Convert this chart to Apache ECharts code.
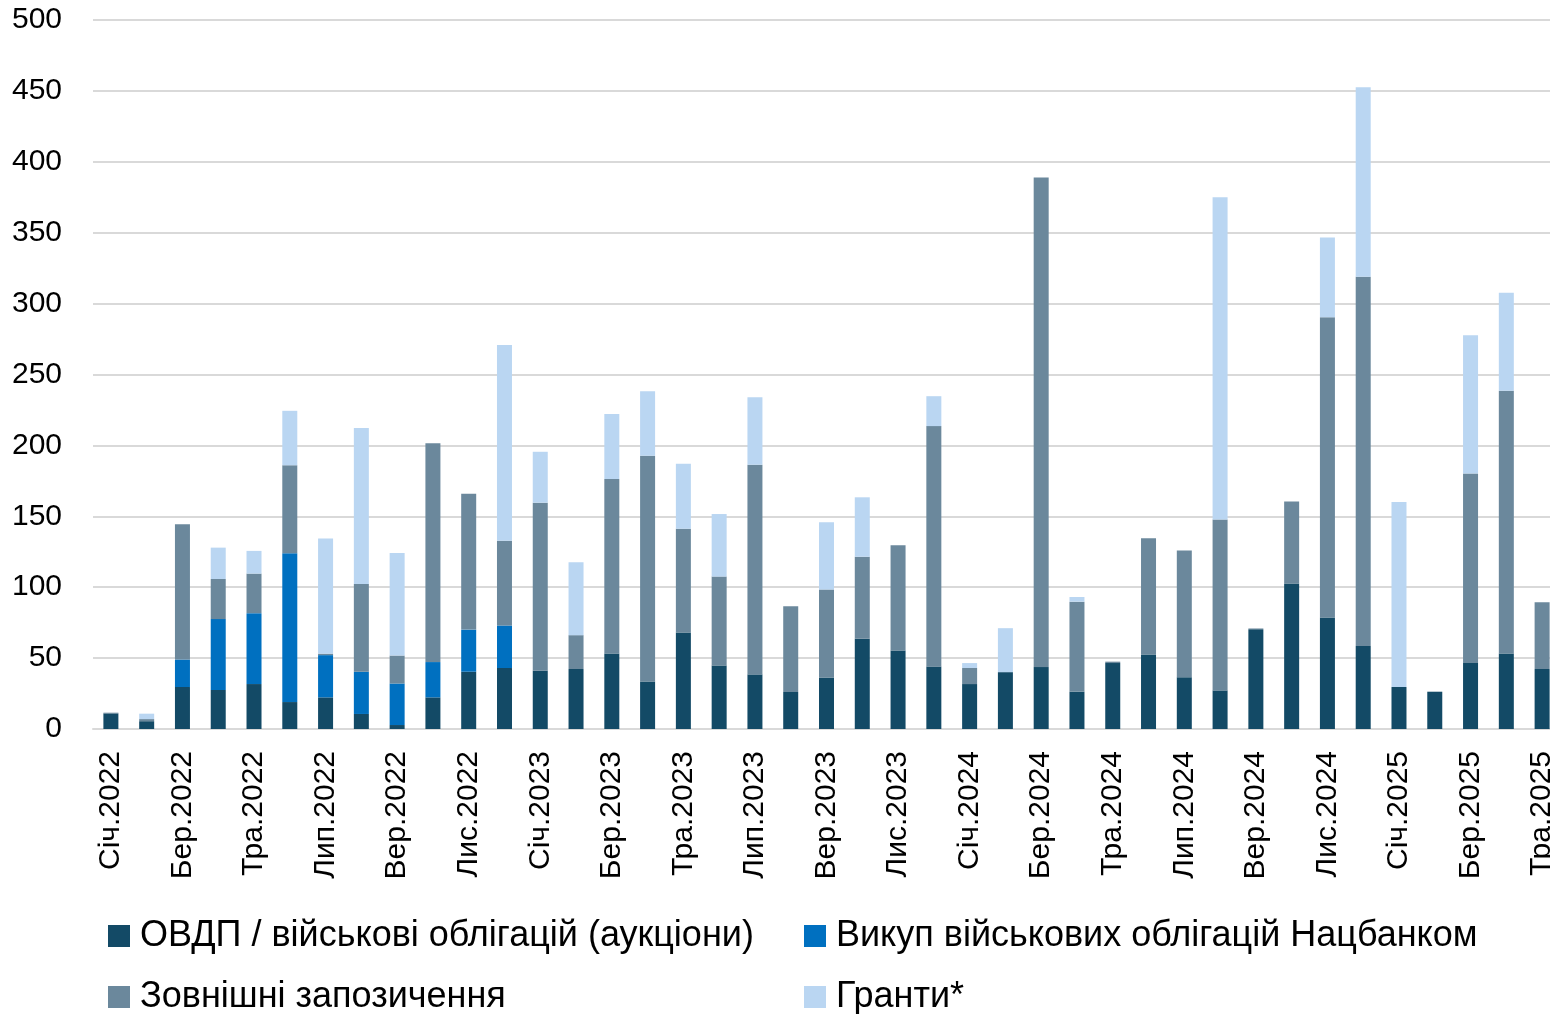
<!DOCTYPE html>
<html>
<head>
<meta charset="utf-8">
<script src="https://cdn.jsdelivr.net/npm/echarts@6/dist/echarts.min.js"></script>
<style>
  html, body { margin: 0; padding: 0; background: #fff; }
  #chart { width: 1550px; height: 1014px; }
</style>
</head>
<body>
<div id="chart"></div>
<script>
const categories = [
  'Січ.2022', 'Лют.2022', 'Бер.2022', 'Кві.2022', 'Тра.2022', 'Чер.2022', 'Лип.2022', 'Сер.2022', 'Вер.2022', 'Жов.2022', 'Лис.2022', 'Гру.2022',
  'Січ.2023', 'Лют.2023', 'Бер.2023', 'Кві.2023', 'Тра.2023', 'Чер.2023', 'Лип.2023', 'Сер.2023', 'Вер.2023', 'Жов.2023', 'Лис.2023', 'Гру.2023',
  'Січ.2024', 'Лют.2024', 'Бер.2024', 'Кві.2024', 'Тра.2024', 'Чер.2024', 'Лип.2024', 'Сер.2024', 'Вер.2024', 'Жов.2024', 'Лис.2024', 'Гру.2024',
  'Січ.2025', 'Лют.2025', 'Бер.2025', 'Кві.2025', 'Тра.2025'
]

// ОВДП / військові облігації (аукціони)
const ovdp = [11, 5.5, 29.6, 27.5, 31.7, 19, 22.3, 10.6, 2.8, 22.3, 40.4, 43,
  41.1, 42.3, 53.2, 33.5, 68, 44.8, 38.5, 26.1, 36.3, 63.6, 55.4, 44.1,
  31.7, 40.1, 43.7, 26.4, 46.5, 52.6, 36.5, 27.2, 70.4, 102.6, 78.7, 58.6,
  29.6, 26.3, 46.5, 53.3, 42.3]
// Викуп військових облігацій Нацбанком
const buyback = [0, 0, 19.4, 50, 50, 105, 29.8, 29.8, 29.3, 24.9, 29.7, 30,
  0, 0, 0, 0, 0, 0, 0, 0, 0, 0, 0, 0,
  0, 0, 0, 0, 0, 0, 0, 0, 0, 0, 0, 0,
  0, 0, 0, 0, 0]
// Зовнішні запозичення
const external = [0.5, 1.5, 95.4, 28.3, 27.9, 62, 1, 61.9, 19.7, 154.4, 95.8, 59.8,
  118.5, 23.9, 123.1, 159.2, 73.3, 62.7, 147.8, 60.5, 62, 57.9, 74.2, 169.5,
  11.3, 0, 345.2, 63.4, 1, 82, 89.3, 120.5, 0.5, 57.9, 211.7, 260.3,
  0, 0, 133.6, 185.2, 47.1]
// Гранти*
const grants = [0, 3.8, 0, 22.1, 16, 38.4, 81.2, 109.9, 72.4, 0, 0, 138,
  35.9, 51.4, 45.8, 45.5, 45.7, 44.1, 47.7, 0, 47.5, 41.9, 0, 21.1,
  3.5, 31, 0, 3.3, 0, 0, 0, 227.3, 0, 0, 56.3, 133.6,
  130.4, 0, 97.6, 69.1, 0]

const chartData = [
  { name: 'ОВДП / військові облігацій (аукціони)', value: ovdp, color: '#134a66' },
  { name: 'Викуп військових облігацій Нацбанком', value: buyback, color: '#0070c0' },
  { name: 'Зовнішні запозичення', value: external, color: '#6b889c' },
  { name: 'Гранти*', value: grants, color: '#bad6f2' }
]

const chart = echarts.init(document.getElementById('chart'))

const series = chartData.map(item => {
  return {
    type: 'bar',
    name: item.name,
    data: item.value,
    stack: 'total',
    barWidth: 15,
    itemStyle: {
      color: item.color
    }
  }
})

// legend is a 2x2 grid, one legend block per entry
const legendPos = [
  { left: 103, top: 913 },
  { left: 799, top: 913 },
  { left: 103, top: 974 },
  { left: 799, top: 974 }
]
const legends = chartData.map((item, i) => {
  return {
    data: [item.name],
    left: legendPos[i].left,
    top: legendPos[i].top,
    icon: 'rect',
    itemWidth: 22,
    itemHeight: 22,
    textStyle: {
      color: '#000',
      fontSize: 36,
      fontFamily: '"Liberation Sans Narrow", "Liberation Sans", Arial, sans-serif',
      padding: [0, 0, 0, 5]
    }
  }
})

chart.setOption({
  animation: false,
  grid: {
    left: 93,
    top: 20,
    right: -10,
    bottom: 285,
    outerBoundsMode: 'none'
  },
  legend: legends,
  xAxis: {
    type: 'category',
    data: categories,
    axisLine: {
      lineStyle: { color: '#d9d9d9', width: 2 }
    },
    axisTick: {
      interval: 1,
      length: 10,
      lineStyle: { color: '#d9d9d9', width: 2 }
    },
    axisLabel: {
      interval: 1,
      rotate: 90,
      margin: 22,
      color: '#000',
      fontSize: 30,
      fontFamily: '"Liberation Sans", Arial, sans-serif'
    }
  },
  yAxis: {
    type: 'value',
    min: 0,
    max: 500,
    interval: 50,
    axisLine: { show: false },
    axisTick: { show: false },
    axisLabel: {
      margin: 31,
      color: '#000',
      fontSize: 30,
      fontFamily: '"Liberation Sans", Arial, sans-serif'
    },
    splitLine: {
      lineStyle: { color: '#d9d9d9', width: 2 }
    }
  },
  series: series
})
</script>
</body>
</html>
